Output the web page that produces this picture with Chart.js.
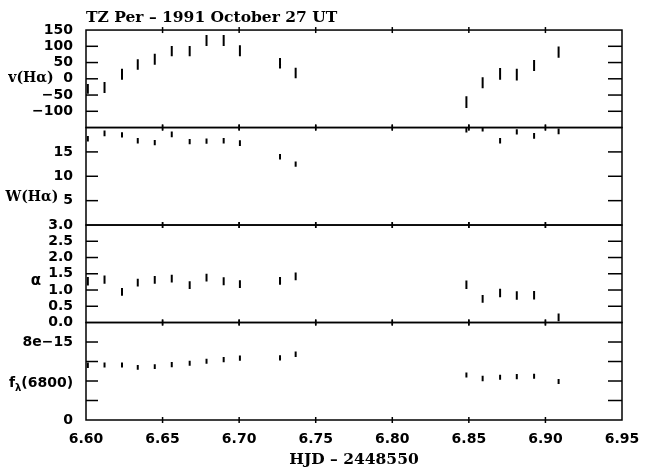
<!DOCTYPE html>
<html><head><meta charset="utf-8">
<script src="https://cdn.jsdelivr.net/npm/chart.js@4/dist/chart.umd.min.js"></script>
<style>html,body{margin:0;padding:0;background:#fff}#wrap{width:647px;height:471px}</style>
</head><body><div id="wrap"><canvas id="c" width="647" height="471"></canvas></div>
<script>
// ---- data ----
const hjd = [6.6012, 6.6121, 6.6235, 6.6338, 6.6449, 6.6560, 6.6677, 6.6787, 6.6899, 6.7005, 6.7267, 6.7369,
             6.8484, 6.8590, 6.8704, 6.8813, 6.8926, 6.9086];
const vHa    = [-31, -27, 14, 44, 60, 85, 85, 118, 118, 86, 48, 18, -72, -12, 15, 13, 41, 82];
const vHaErr = [15, 17, 17, 16, 17, 16, 16, 17, 17, 17, 16, 16, 18, 17, 18, 18, 17, 17];
const wHa    = [17.7, 18.8, 18.5, 17.3, 16.9, 18.6, 17.1, 17.2, 17.3, 16.8, 14.0, 12.5, 19.5, 19.6, 17.3, 19.1, 18.3, 19.2];
const wHaErr = [0.55, 0.6, 0.55, 0.55, 0.55, 0.6, 0.55, 0.55, 0.55, 0.6, 0.55, 0.55, 0.5, 0.4, 0.55, 0.55, 0.6, 0.6];
const alpha    = [1.27, 1.32, 0.94, 1.23, 1.31, 1.35, 1.15, 1.38, 1.27, 1.18, 1.28, 1.42, 1.16, 0.73, 0.91, 0.83, 0.84, 0.16];
const alphaErr = [0.13, 0.13, 0.12, 0.12, 0.12, 0.12, 0.12, 0.12, 0.12, 0.12, 0.12, 0.12, 0.13, 0.12, 0.13, 0.13, 0.13, 0.12];
const flux    = [5.62e-15, 5.65e-15, 5.65e-15, 5.39e-15, 5.48e-15, 5.67e-15, 5.82e-15, 6.03e-15, 6.19e-15, 6.34e-15, 6.37e-15, 6.75e-15,
                 4.62e-15, 4.25e-15, 4.38e-15, 4.46e-15, 4.48e-15, 3.94e-15];
const fluxErr = [0.28e-15, 0.26e-15, 0.26e-15, 0.24e-15, 0.25e-15, 0.27e-15, 0.26e-15, 0.26e-15, 0.27e-15, 0.27e-15, 0.26e-15, 0.28e-15,
                 0.26e-15, 0.28e-15, 0.26e-15, 0.27e-15, 0.26e-15, 0.26e-15];

const xTicks  = [6.60, 6.65, 6.70, 6.75, 6.80, 6.85, 6.90, 6.95];
const xLabels = ['6.60', '6.65', '6.70', '6.75', '6.80', '6.85', '6.90', '6.95'];
const vTicks  = [-150, -100, -50, 0, 50, 100, 150];
const vLabels = ['', '\u2212100', '\u221250', '0', '50', '100', '150'];
const wTicks  = [0, 5, 10, 15, 20];
const wLabels = ['', '5', '10', '15', ''];
const aTicks  = [0, 0.5, 1, 1.5, 2, 2.5, 3];
const aLabels = ['0.0', '0.5', '1.0', '1.5', '2.0', '2.5', '3.0'];
const fTicks  = [0, 2e-15, 4e-15, 6e-15, 8e-15, 1e-14];
const fLabels = ['0', '', '', '', '8e\u221215', ''];

const chartTitle = 'TZ Per \u2013 1991 October 27 UT';
const xTitle = 'HJD \u2013 2448550';

// ---- build ----
function bars(vals, errs) {
  const out = [];
  hjd.forEach((x, i) => {
    out.push({x: x, y: vals[i] - errs[i]}, {x: x, y: vals[i] + errs[i]}, {x: x, y: null});
  });
  return out;
}
const tickFont = {family: 'DejaVu Sans', weight: 'bold', size: 14};
function yScale(ticks, labels, weight) {
  return {
    type: 'linear', position: 'left', stack: 'panels', stackWeight: 1, weight: weight,
    min: ticks[0], max: ticks[ticks.length - 1],
    afterBuildTicks: s => { s.ticks = ticks.map(v => ({value: v})); },
    afterFit: s => { s.width = 86; },
    grid: {display: false}, border: {display: false},
    ticks: {autoSkip: false, padding: 5, color: '#000', font: tickFont,
            callback: (v, i) => labels[i]}
  };
}
function ds(label, data, yid) {
  return {label: label, data: data, yAxisID: yid, xAxisID: 'x', showLine: true, spanGaps: false,
          borderColor: '#000', borderWidth: 2, borderCapStyle: 'butt', pointRadius: 0, pointHoverRadius: 0};
}

const framePlugin = {
  id: 'frames',
  afterDraw(chart) {
    const ctx = chart.ctx, ca = chart.chartArea, xs = chart.scales.x;
    const line = (a, b, c, d) => { ctx.beginPath(); ctx.moveTo(a, b); ctx.lineTo(c, d); ctx.stroke(); };
    ctx.save();
    ctx.strokeStyle = '#000';
    ctx.lineWidth = 1.5;
    const ids = ['yV', 'yW', 'yA', 'yF'];
    ids.forEach(id => {
      const s = chart.scales[id];
      ctx.strokeRect(ca.left, s.top, ca.right - ca.left, s.bottom - s.top);
      s.ticks.forEach(t => {
        if (t.value === s.min || t.value === s.max) return;
        const p = s.getPixelForValue(t.value);
        line(ca.left, p, ca.left + 12, p);
        line(ca.right - 14, p, ca.right, p);
      });
      xs.ticks.forEach(t => {
        if (t.value === xs.min || t.value === xs.max) return;
        const p = xs.getPixelForValue(t.value);
        line(p, s.top - 3, p, s.top + 3);
        line(p, s.bottom - 3, p, s.bottom + 3);
      });
    });
    // horizontal y-axis titles
    ctx.fillStyle = '#000';
    ctx.textBaseline = 'middle';
    ctx.textAlign = 'center';
    const at = (id, f) => { const s = chart.scales[id]; return s.top + f * (s.bottom - s.top); };
    ctx.font = 'bold 14px "DejaVu Serif"';
    ctx.fillText('v(H\u03b1)', 31, at('yV', 0.5));
    ctx.fillText('W(H\u03b1)', 32, at('yW', 0.72));
    ctx.font = 'bold 15px "DejaVu Sans"';
    ctx.fillText('\u03b1', 36, at('yA', 0.574));
    // f_lambda(6800)
    const yf = at('yF', 0.62);
    ctx.textAlign = 'left';
    ctx.font = 'bold 14px "DejaVu Sans"';
    const wf = ctx.measureText('f').width;
    const wp = ctx.measureText('(6800)').width;
    ctx.font = 'bold 10px "DejaVu Sans"';
    const wl = ctx.measureText('\u03bb').width;
    let x0 = 41 - (wf + wl + wp) / 2;
    ctx.font = 'bold 14px "DejaVu Sans"';
    ctx.fillText('f', x0, yf);
    ctx.font = 'bold 10px "DejaVu Sans"';
    ctx.fillText('\u03bb', x0 + wf, yf + 5);
    ctx.font = 'bold 14px "DejaVu Sans"';
    ctx.fillText('(6800)', x0 + wf + wl, yf);
    ctx.restore();
  }
};

new Chart(document.getElementById('c'), {
  type: 'scatter',
  data: {datasets: [
    ds('v(H\u03b1)', bars(vHa, vHaErr), 'yV'),
    ds('W(H\u03b1)', bars(wHa, wHaErr), 'yW'),
    ds('\u03b1', bars(alpha, alphaErr), 'yA'),
    ds('f\u03bb(6800)', bars(flux, fluxErr), 'yF')
  ]},
  options: {
    responsive: false, animation: false, events: [],
    layout: {padding: {left: 0, right: 25, top: 0, bottom: 0}},
    plugins: {
      legend: {display: false}, tooltip: {enabled: false},
      title: {display: true, text: chartTitle, align: 'start', fullSize: false, color: '#000',
              font: {family: 'DejaVu Serif', weight: 'bold', size: 15.5, lineHeight: 1.1}, padding: {top: 9, bottom: 4}}
    },
    scales: {
      x: {
        type: 'linear', position: 'bottom', min: xTicks[0], max: xTicks[xTicks.length - 1],
        afterBuildTicks: s => { s.ticks = xTicks.map(v => ({value: v})); },
        afterFit: s => { s.height = 51; },
        grid: {display: false}, border: {display: false},
        ticks: {autoSkip: false, maxRotation: 0, padding: 3, color: '#000', font: tickFont,
                callback: (v, i) => xLabels[i]},
        title: {display: true, text: xTitle, color: '#000',
                font: {family: 'DejaVu Serif', weight: 'bold', size: 15.5}, padding: {top: 0, bottom: 2}}
      },
      yV: yScale(vTicks, vLabels, 4),
      yW: yScale(wTicks, wLabels, 3),
      yA: yScale(aTicks, aLabels, 2),
      yF: yScale(fTicks, fLabels, 1)
    }
  },
  plugins: [framePlugin]
});
</script>
</body></html>
